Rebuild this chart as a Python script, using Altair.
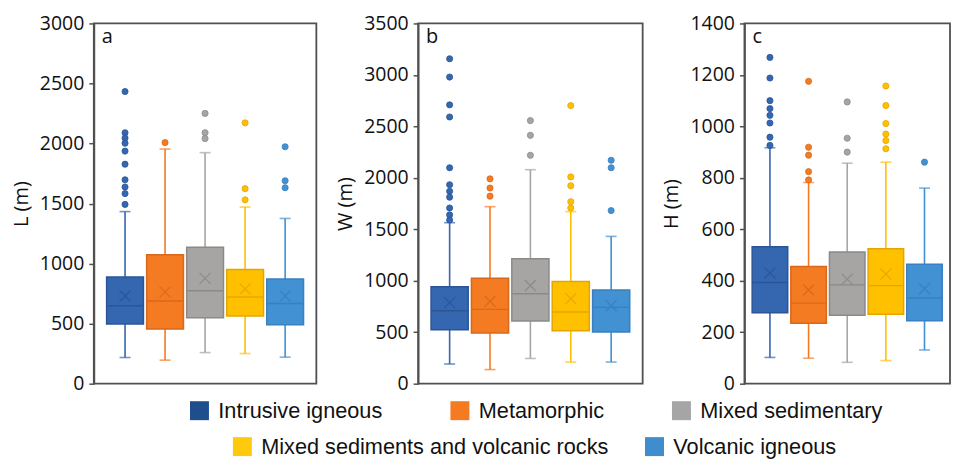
import altair as alt
import pandas as pd

categories = ["Intrusive igneous", "Metamorphic", "Mixed sedimentary",
              "Mixed sediments and volcanic rocks", "Volcanic igneous"]

fill_colors = ["#3566B0", "#F47B22", "#A6A5A3", "#FFC000", "#4191D3"]
stroke_colors = ["#2B5597", "#D8691C", "#8A8A8A", "#E3A600", "#3A80C0"]
legend_row1 = ["Intrusive igneous", "Metamorphic", "Mixed sedimentary"]
legend_row1_colors = ["#1F4E8C", "#F47B22", "#A5A5A5"]
legend_row2 = ["Mixed sediments and volcanic rocks", "Volcanic igneous"]
legend_row2_colors = ["#FFC90E", "#3F8DCC"]

# Panel a: L (m)
L_q1 = [496, 455, 550, 564, 490]
L_med = [649, 689, 774, 722, 668]
L_q3 = [888, 1074, 1136, 951, 872]
L_lo = [218, 196, 259, 251, 221]
L_hi = [1433, 1954, 1924, 1471, 1376]
L_mean = [730, 763, 877, 790, 730]
L_out = [[2433, 2090, 2046, 2003, 1937, 1828, 1698, 1638, 1583, 1493],
         [2008],
         [2251, 2090, 2041],
         [2172, 1624, 1531],
         [1973, 1690, 1632]]

# Panel b: W (m)
W_q1 = [525, 493, 610, 515, 502]
W_med = [709, 722, 874, 696, 741]
W_q3 = [941, 1024, 1214, 992, 909]
W_lo = [191, 137, 245, 210, 210]
W_hi = [1564, 1720, 2079, 1672, 1431]
W_mean = [788, 801, 954, 827, 757]
W_out = [[3157, 2979, 2709, 2591, 2098, 1933, 1869, 1812, 1707, 1640, 1590],
         [1990, 1901, 1822],
         [2556, 2413, 2219],
         [2702, 2009, 1923, 1768, 1707],
         [2171, 2098, 1682]]

# Panel c: H (m)
H_q1 = [276, 235, 266, 270, 245]
H_med = [393, 313, 384, 381, 333]
H_q3 = [532, 455, 512, 524, 464]
H_lo = [102, 99, 83, 90, 131]
H_hi = [917, 782, 857, 861, 760]
H_mean = [430, 364, 406, 426, 369]
H_out = [[1268, 1188, 1100, 1069, 1043, 1013, 958, 926],
         [1175, 919, 888, 824, 792],
         [1095, 954, 900],
         [1157, 1081, 1011, 970, 945, 913],
         [861]]


def stats_df(q1, med, q3, lo, hi, mean):
    return pd.DataFrame({"cat": categories, "q1": q1, "med": med, "q3": q3,
                         "lo": lo, "hi": hi, "mean": mean})


def out_df(outs):
    rows = [{"cat": c, "v": v} for c, vals in zip(categories, outs) for v in vals]
    return pd.DataFrame(rows)


def panel(letter, title, ymax, step, stats, outs, width, pad_outer, legend=None):
    x = alt.X("cat:N", scale=alt.Scale(type="band", domain=categories,
                                       paddingInner=0.08, paddingOuter=pad_outer),
              axis=None)
    yscale = alt.Scale(domain=[0, ymax], nice=False, zero=True)
    yaxis = alt.Axis(values=list(range(0, ymax + 1, step)), format="d",
                     title=title, grid=False)

    def Y(f):
        return alt.Y(f, scale=yscale, axis=yaxis)

    fill = alt.Fill("cat:N", scale=alt.Scale(domain=categories, range=fill_colors), legend=None)
    stroke = alt.Stroke("cat:N", scale=alt.Scale(domain=categories, range=stroke_colors), legend=None)

    s = alt.Chart(stats)
    whisk = s.mark_bar(size=1.6).encode(x=x, y=Y("lo:Q"), y2="hi:Q", fill=fill)
    cap_lo = s.mark_tick(size=11, thickness=1.6).encode(x=x, y=Y("lo:Q"), fill=fill)
    cap_hi = s.mark_tick(size=11, thickness=1.6).encode(x=x, y=Y("hi:Q"), fill=fill)
    box = s.mark_bar(strokeWidth=1.5).encode(x=x, y=Y("q1:Q"), y2="q3:Q", fill=fill, stroke=stroke)
    med = s.mark_bar(strokeWidth=1.4, fillOpacity=0).encode(x=x, y=Y("med:Q"), y2="med:Q", stroke=stroke)
    mean = s.mark_point(shape="M-1,-1L1,1M-1,1L1,-1", size=121, strokeWidth=1.2,
                        filled=False, opacity=0.9).encode(x=x, y=Y("mean:Q"), stroke=stroke)
    outl = alt.Chart(outs).mark_circle(size=38, strokeWidth=0.8, opacity=1).encode(
        x=x, y=Y("v:Q"), fill=fill, stroke=stroke)
    lt = alt.Chart(pd.DataFrame({"t": [letter]})).mark_text(
        align="left", baseline="alphabetic", fontSize=20, font="Open Sans", color="#111"
    ).encode(text="t:N", x=alt.value(8), y=alt.value(20))

    layers = [whisk, cap_lo, cap_hi, box, med, mean, outl, lt]
    if legend is not None:
        cats, cols, lx, ly, cpad = legend
        leg = alt.Chart(pd.DataFrame({"cat": cats})).mark_square(opacity=0).encode(
            color=alt.Color("cat:N", scale=alt.Scale(domain=cats, range=cols),
                            legend=alt.Legend(title=None, orient="none", legendX=lx, legendY=ly,
                                              direction="horizontal", columns=len(cats),
                                              columnPadding=cpad, symbolType="square",
                                              symbolSize=361, symbolStrokeWidth=0,
                                              symbolOpacity=1, labelOffset=8, padding=0,
                                              labelFont="Liberation Sans", labelFontSize=21.75,
                                              labelColor="#111", labelLimit=500)))
        layers.append(leg)
    return alt.layer(*layers).properties(width=width, height=361)


pa = panel("a", "L (m)", 3000, 500, stats_df(L_q1, L_med, L_q3, L_lo, L_hi, L_mean),
           out_df(L_out), 223, 0.32, legend=(legend_row1, legend_row1_colors, 95, 377, 66))
pb = panel("b", "W (m)", 3500, 500, stats_df(W_q1, W_med, W_q3, W_lo, W_hi, W_mean),
           out_df(W_out), 225, 0.32)
pc = panel("c", "H (m)", 1400, 200, stats_df(H_q1, H_med, H_q3, H_lo, H_hi, H_mean),
           out_df(H_out), 206, 0.2, legend=(legend_row2, legend_row2_colors, -514, 413, 35))

chart = alt.hconcat(pa, pb, pc, spacing=102, bounds="flush").resolve_scale(
    x="independent", y="independent", color="independent"
).resolve_legend(color="independent").properties(
    padding={"left": 2, "top": 4, "right": 0, "bottom": -1}
).configure_view(
    stroke="#505050", strokeWidth=1.8
).configure_axis(
    domainColor="#505050", domainWidth=1.8, tickColor="#505050", tickWidth=1.5, tickSize=5,
    labelFont="Open Sans", labelFontSize=19.5, labelColor="#111", labelPadding=5,
    titleFont="Open Sans", titleFontSize=20, titleFontWeight="normal", titleColor="#111",
    titlePadding=8
)

chart.save("out.html", embed_options={"renderer": "svg", "actions": False})
